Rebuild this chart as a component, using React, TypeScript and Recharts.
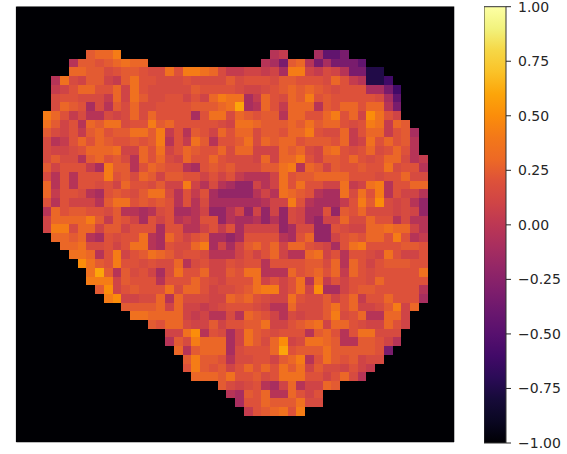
import React from "react";
import { ScatterChart, Scatter, XAxis, YAxis, ComposedChart, Bar, ReferenceArea } from "recharts";

const GRID_SIZE = 50;
const colorbarTicks = [-1, -0.75, -0.5, -0.25, 0, 0.25, 0.5, 0.75, 1];

// inferno colormap samples, evenly spaced from 0 to 1
const infernoStops = [
  "#000004", "#0a0722", "#160b39", "#2b0b57", "#420a68", "#57106e", "#6a176e", "#7f1e6c", "#932667", "#a82e5f", "#bc3754",
  "#cf4446", "#dd513a", "#ed6925", "#f37819", "#fb8d0a", "#fca50a", "#fac228", "#f6d746", "#f2f27d", "#fcffa4",
];

// value of each letter/digit used in the rows below; "." is outside the shape
const levelValues: Record<string, number> = {
  ".": -1, a: -0.75, b: -0.6, c: -0.45, d: -0.33, h: -0.2, e: -0.1, f: -0.03,
  "0": 0.04, "1": 0.1, "2": 0.15, "3": 0.2, "4": 0.24, "5": 0.29, "6": 0.35, "7": 0.42, "8": 0.5, "9": 0.6,
};

// first filled column of rows 5..46
const rowStart = [8, 6, 6, 4, 4, 4, 4, 3, 3, 3, 3, 3, 3, 3, 3, 3, 3, 3, 3, 3, 3, 4, 5, 6, 7, 8, 8, 9, 10, 12, 13, 15, 17, 17, 18, 19, 19, 20, 23, 24, 25, 26];

const upperRows = [
  "4557" + ".................f0...eccd",
  "f44345655" + "............." + "fed45fdedddc",
  "5544234432263776520" + "01101e" + "77" + "1021fddaa",
  "f621441046" + "33222322224" + "2333244333" + "2530faab",
  "013553351632222243333" + "211234545432333eedb",
  "233222051642233131576" + "6e053254734333332ec",
  "2543e2f42522333344456" + "9ef530555f4355355fd",
  "75302ff2125253333e3662" + "54344f5533573518631",
  "6413f54662337453333321" + "66544454645532376054",
  "4213045344664703f43153" + "55244355732250355034e",
  "2f035354334347f3064f33" + "46254553444350163534f",
  "2112355561153613543352" + "55111545215632352353f",
  "2422f45342f53521533532" + "22151557314435323552f0",
  "413330e744f35433fe3434" + "2224467f5414334336233f",
];

const middleRows = [
  "2f3f333734254144331313" + "0fff163445555333233522",
  "5f3f33231533241171f2fe" + "hh1f1636331160167f3355",
  "50332fe34324662f303ehh" + "hhf1f6543fee62637f311f",
  "3f3111f46634343f3f2eee" + "eeef1173feee03748212fh",
  "f53443324ffef23eef1hhf" + "1h1h1h21ee3h435222121h",
  "15555740431e313f0f33hf" + "eefhfh21eh11522533f2ff",
  "1772551441333e33ff1303" + "e1111he22hh3211556551f",
  "5545fe32336fe53134eeh" + "e3333fe35hh134355373f0",
  "5562231366fe32257e1e" + "1453515532" + "1e36733334" + "43",
  "665f371346542332fff" + "131351ff56" + "13f3321631" + "13",
  "864373323225f23113" + "233f333344" + "25f5313444" + "33",
  "694f4231e26335114" + "366fff5345" + "3505323333" + "36",
  "77714333f33353213" + "33613136f6" + "0313325333" + "33",
  "4813433362553122" + "3467713618" + "ee13443333" + "3f",
];

const lowerRows = [
  "7811225f5222115" + "4532116322" + "4135033533" + "3e",
  "4444515110123" + "3321ff5222" + "4635112471" + "5",
  "665555101ff2" + "f5431f2122" + "47235ff551",
  "4355211413" + "3446113456" + "1553211531",
  "1168f32e" + "16432333f4" + "53f366222",
  "f427555e" + "1642581266" + "54ff4431f",
  "5f4555e" + "2333593444" + "6444443d",
  "47443f" + "22331457f3" + "6434122",
  "374341" + "3535364614" + "221310",
  "55546" + "3342366633" + "1352f",
  "42" + "123fe15f1154",
  "fe435ff5313",
  "e335444622",
  "0345637",
];

const FIRST_ROW = 5;
const shapeRows = [...upperRows, ...middleRows, ...lowerRows];

const cells: { col: number; row: number; value: number }[] = [];
for (let row = 0; row < GRID_SIZE; row++) {
  const text = shapeRows[row - FIRST_ROW] ?? "";
  const start = rowStart[row - FIRST_ROW] ?? 0;
  for (let col = 0; col < GRID_SIZE; col++) {
    const ch = col >= start ? text[col - start] : undefined;
    cells.push({ col: col + 0.5, row: row + 0.5, value: levelValues[ch ?? "."] ?? -1 });
  }
}

const hexToRgb = (h: string) => [1, 3, 5].map((i) => parseInt(h.slice(i, i + 2), 16));
function inferno(value: number): string {
  const t = ((value + 1) / 2) * (infernoStops.length - 1);
  const i = Math.min(Math.floor(t), infernoStops.length - 2);
  const a = hexToRgb(infernoStops[i]);
  const b = hexToRgb(infernoStops[i + 1]);
  const c = a.map((v, k) => Math.round(v + (b[k] - v) * (t - i)));
  return `rgb(${c[0]},${c[1]},${c[2]})`;
}

const PLOT_LEFT = 16.3;
const PLOT_RIGHT = 454;
const PLOT_TOP = 6.5;
const PLOT_BOTTOM = 442;
const CELL_W = (PLOT_RIGHT - PLOT_LEFT) / GRID_SIZE;
const CELL_H = (PLOT_BOTTOM - PLOT_TOP) / GRID_SIZE;

const CellShape = (props: any) => (
  <rect
    x={props.cx - CELL_W / 2}
    y={props.cy - CELL_H / 2}
    width={CELL_W + 0.4}
    height={CELL_H + 0.4}
    fill={inferno(props.payload.value)}
    stroke="none"
    shapeRendering="crispEdges"
  />
);

const colorbarData = [{ name: "cb", range: [-1, 1] }];
const formatTick = (v: number) => (v < 0 ? "\u2212" : "") + Math.abs(v).toFixed(2);

export default function App() {
  return (
    <div style={{ position: "absolute", left: 0, top: 0, width: 567, height: 454, background: "#fff" }}>
      <div style={{ position: "absolute", left: 0, top: 0 }}>
        <ScatterChart
          width={567}
          height={454}
          margin={{ left: PLOT_LEFT, right: 567 - PLOT_RIGHT, top: PLOT_TOP, bottom: 454 - PLOT_BOTTOM }}
        >
          <XAxis type="number" dataKey="col" domain={[0, GRID_SIZE]} hide />
          <YAxis type="number" dataKey="row" domain={[0, GRID_SIZE]} reversed hide />
          <Scatter data={cells} shape={CellShape} isAnimationActive={false} />
          <ReferenceArea x1={0} x2={GRID_SIZE} y1={0} y2={GRID_SIZE} fill="none" stroke="#777" strokeWidth={1} ifOverflow="visible" />
        </ScatterChart>
      </div>
      <div style={{ position: "absolute", left: 484, top: 0 }}>
        <ComposedChart
          width={83}
          height={454}
          data={colorbarData}
          barCategoryGap={0}
          margin={{ left: 0, right: 0, top: 6.7, bottom: 11 }}
        >
          <defs>
            <linearGradient id="infernoBar" x1="0" y1="1" x2="0" y2="0">
              {infernoStops.map((c, i) => (
                <stop key={c} offset={i / (infernoStops.length - 1)} stopColor={c} />
              ))}
            </linearGradient>
          </defs>
          <XAxis dataKey="name" hide />
          <YAxis
            orientation="right"
            type="number"
            domain={[-1, 1]}
            ticks={colorbarTicks}
            tickFormatter={formatTick}
            width={61}
            axisLine={false}
            tickLine={{ stroke: "#262626", strokeWidth: 1 }}
            tickSize={5}
            tickMargin={7}
            interval={0}
            tick={{ fill: "#262626", fontSize: 14, fontFamily: "DejaVu Sans" }}
          />
          <Bar dataKey="range" fill="url(#infernoBar)" stroke="#333" strokeWidth={1} isAnimationActive={false} />
        </ComposedChart>
      </div>
    </div>
  );
}
